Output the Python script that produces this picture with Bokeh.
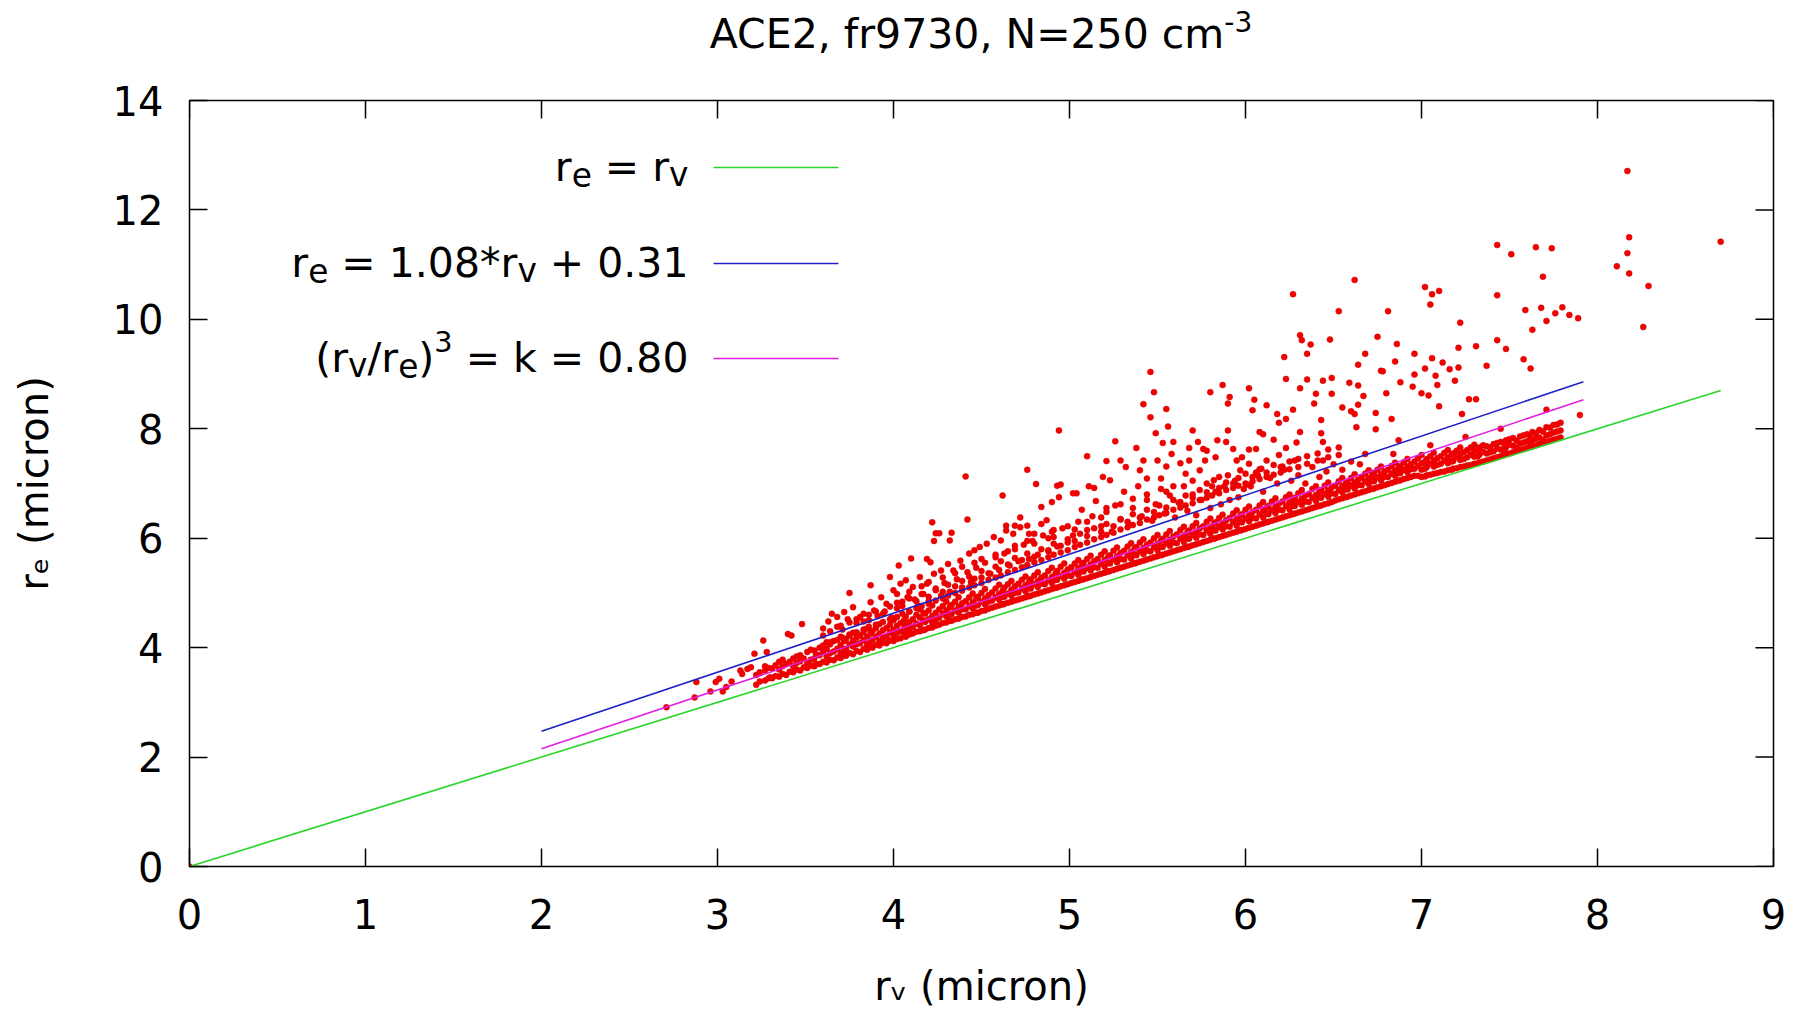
import math
from bokeh.plotting import figure
from bokeh.models import Label, FixedTicker, Div
from bokeh.layouts import column
from bokeh.embed import file_html
from bokeh.resources import INLINE

# ------------------------------------------------------------------
# DATA
# ------------------------------------------------------------------
title_main = "ACE2, fr9730, N=250 cm"
title_sup = "-3"
x_ticks = [0, 1, 2, 3, 4, 5, 6, 7, 8, 9]
y_ticks = [0, 2, 4, 6, 8, 10, 12, 14]

green_x = [0.0, 8.70]
green_y = [0.0, 8.70]
blue_x = [2.0, 7.92]
blue_y = [2.47, 8.86]
mag_x = [2.0, 7.92]
mag_y = [2.15, 8.53]

outlier_pts = [
    (0.00, 0.00),
    (8.17, 12.71), (8.70, 11.42), (8.18, 11.50), (8.17, 11.21), (8.11, 10.97), (8.18, 10.84), (8.29, 10.61), (8.26, 9.86),
    (7.43, 11.36), (7.51, 11.19), (7.65, 11.32), (7.74, 11.30), (7.69, 10.78), (7.02, 10.59), (7.06, 10.46), (7.10, 10.52),
    (7.05, 10.27), (7.43, 10.44), (6.81, 10.15), (7.22, 9.94), (7.59, 10.17), (7.68, 10.21), (7.80, 10.22), (7.76, 10.11),
    (7.84, 10.08), (7.89, 10.02), (7.71, 9.97), (7.63, 9.81),
    (6.75, 9.68), (6.86, 9.55), (6.68, 9.37), (6.96, 9.37), (7.21, 9.48), (7.31, 9.51), (7.43, 9.62), (7.48, 9.46),
    (6.85, 9.23), (7.06, 9.29), (7.12, 9.21), (7.58, 9.27), (6.77, 9.06), (7.02, 9.10), (7.16, 9.09), (7.21, 9.12),
    (7.37, 9.15), (7.62, 9.10), (6.96, 8.99), (7.08, 8.97), (7.09, 8.80), (7.19, 8.88), (6.88, 8.85), (6.95, 8.77),
    (6.67, 8.60), (6.80, 8.65), (7.00, 8.65), (7.04, 8.61), (7.27, 8.54), (7.31, 8.54), (7.10, 8.41), (6.74, 8.29),
    (7.23, 8.27), (6.83, 8.18), (6.74, 7.99), (7.90, 8.25), (6.68, 7.54), (6.87, 7.79),
    (6.62, 10.72), (6.27, 10.46), (6.53, 10.15), (6.31, 9.71), (6.32, 9.62), (6.37, 9.54), (6.48, 9.63), (6.35, 9.37), (6.22, 9.31),
    (5.46, 9.04), (5.48, 8.67), (5.42, 8.45), (5.46, 8.21), (5.55, 8.36), (4.94, 7.97), (5.26, 7.77), (5.38, 7.65),
    (5.10, 7.50), (4.76, 7.25), (4.81, 6.99), (4.62, 6.78), (5.49, 7.92), (5.56, 8.04), (5.70, 7.97), (5.87, 8.80),
    (5.80, 8.67), (5.91, 8.58), (5.90, 8.46), (6.02, 8.74), (6.05, 8.53), (6.04, 8.34), (6.12, 8.43), (6.18, 8.27),
    (6.23, 8.91), (6.31, 8.74), (6.35, 8.90), (6.44, 8.88), (6.49, 8.93), (6.40, 8.64), (6.49, 8.64), (6.39, 8.46),
    (6.64, 9.17), (6.59, 8.84), (6.64, 8.79), (6.78, 9.05), (6.55, 8.39), (6.60, 8.32), (6.62, 8.27), (6.64, 8.44),
    (6.63, 8.03), (6.43, 8.16), (6.43, 7.92), (6.44, 7.76), (6.27, 8.35), (6.23, 8.18), (6.19, 8.11), (6.31, 7.94),
    (6.29, 7.75), (6.23, 7.65), (6.19, 7.52), (6.28, 7.42), (6.21, 7.31), (6.44, 7.42), (6.16, 7.80), (6.08, 7.94),
    (6.10, 7.90), (6.06, 7.63), (6.02, 7.62), (6.12, 7.42), (6.09, 7.27), (6.02, 7.36), (5.98, 7.48), (5.93, 7.63),
    (5.90, 7.97), (5.89, 7.76), (5.84, 7.79), (5.76, 7.63), (5.78, 7.60), (5.83, 7.48), (5.77, 7.42), (5.95, 7.42),
    (5.97, 7.24), (6.07, 7.15), (6.01, 6.98), (5.90, 7.15), (5.82, 7.06), (5.74, 7.24), (5.68, 7.65), (5.73, 7.76),
    (5.68, 7.42), (5.66, 7.18), (5.63, 7.37), (5.58, 7.54), (5.59, 7.76), (5.53, 7.74), (5.50, 7.42), (5.55, 7.31),
    (5.42, 7.42), (5.40, 7.24), (5.44, 7.09), (5.52, 7.09), (5.59, 6.95), (5.29, 7.42), (5.32, 7.30), (5.21, 7.41),
    (5.19, 7.12), (5.23, 7.06), (5.11, 6.95), (5.14, 6.92), (5.04, 6.82), (4.95, 6.98), (5.02, 6.82), (4.94, 6.75),
    (4.90, 6.66), (4.84, 6.57), (4.72, 6.38), (4.64, 6.23), (4.69, 6.23), (4.77, 6.08), (4.41, 7.13), (4.93, 6.96),
    (6.84, 7.54), (7.05, 7.70), (7.25, 7.85), (7.45, 8.00), (7.71, 8.35),
]

low_pts = [
    (2.71, 2.91), (2.87, 3.09), (2.88, 3.37), (2.96, 3.20), (2.99, 3.37), (3.01, 3.43), (3.03, 3.20), (3.05, 3.28),
    (3.08, 3.38), (3.13, 3.58), (3.14, 3.52), (3.17, 3.61), (3.19, 3.64), (3.30, 3.46), (3.21, 3.89), (3.26, 4.13),
    (3.28, 3.92), (3.40, 4.25), (3.42, 4.22), (3.48, 4.43), (3.75, 5.00), (3.87, 5.14), (3.98, 5.29), (4.03, 5.50),
    (4.10, 5.63), (4.19, 5.62), (4.21, 5.56), (4.22, 6.29), (4.42, 6.34), (4.24, 6.09), (4.26, 6.09), (4.23, 5.95),
    (4.33, 6.10), (4.32, 5.96),
]

cloud_pts = [
    (3.65, 4.62), (3.68, 4.56), (3.72, 4.65), (3.77, 4.74), (3.81, 4.56), (3.87, 4.83), (3.89, 4.68), (3.93, 4.92),
    (3.96, 4.80), (4.00, 5.05), (4.04, 5.17), (4.07, 5.23), (4.08, 4.92), (4.11, 5.11), (4.15, 5.29), (4.19, 5.17),
    (4.23, 5.35), (4.27, 5.41), (4.31, 5.53), (4.34, 5.41), (4.38, 5.59), (4.43, 5.72), (4.46, 5.78), (4.49, 5.84),
    (4.53, 5.90), (4.57, 6.02), (4.61, 5.96), (4.64, 6.14), (4.68, 6.08), (4.72, 6.20), (4.76, 6.23), (4.80, 6.08),
    (4.84, 6.26), (4.87, 6.33), (4.91, 6.02),
    (3.60, 4.35), (3.63, 4.48), (3.70, 4.40), (3.74, 4.52), (3.79, 4.45), (3.83, 4.62), (3.86, 4.50), (3.91, 4.58),
    (3.95, 4.66), (3.99, 4.55), (4.02, 4.72), (4.05, 4.84), (4.09, 4.66), (4.12, 4.88), (4.14, 4.76), (4.17, 4.98),
    (4.20, 4.85), (4.24, 5.05), (4.27, 4.95), (4.29, 5.18), (4.32, 5.02), (4.36, 5.25), (4.39, 5.10), (4.42, 5.38),
    (4.44, 5.20), (4.47, 5.46), (4.50, 5.28), (4.52, 5.55), (4.55, 5.35), (4.58, 5.65), (4.60, 5.42), (4.63, 5.72),
    (4.66, 5.50), (4.69, 5.80), (4.71, 5.58), (4.74, 5.88), (4.77, 5.62), (4.79, 5.95), (4.82, 5.70), (4.85, 6.05),
    (4.88, 5.78), (4.90, 6.12), (4.93, 5.85), (4.96, 6.18), (4.99, 5.92),
    (5.02, 6.05), (5.05, 6.30), (5.07, 6.52), (5.10, 6.15), (5.13, 6.40), (5.15, 6.68), (5.18, 6.22), (5.21, 6.48),
    (5.24, 6.12), (5.26, 6.60), (5.29, 6.35), (5.31, 6.85), (5.34, 6.25), (5.36, 6.55), (5.39, 6.95), (5.41, 6.40),
    (5.44, 6.70), (5.47, 6.32), (5.49, 6.62), (5.52, 6.90), (5.54, 6.45), (5.57, 6.78), (5.60, 6.38), (5.62, 6.65),
    (5.65, 6.95), (5.67, 6.50), (5.70, 6.80), (5.72, 6.42), (5.75, 6.70), (5.78, 7.00), (5.80, 6.55), (5.83, 6.85),
    (5.86, 6.62), (5.88, 6.95), (5.91, 6.70), (5.94, 7.05), (5.96, 6.75), (5.99, 6.90),
    (6.03, 6.95), (6.06, 7.20), (6.10, 6.85), (6.14, 7.10), (6.18, 7.00), (6.22, 7.25), (6.26, 7.05), (6.30, 7.15),
    (6.34, 7.00), (6.38, 7.30), (6.42, 7.12), (6.46, 7.22), (6.50, 7.35), (6.55, 7.25), (6.60, 7.40), (6.65, 7.35),
]

mid_cols = [
    (3.60, [4.02, 4.22]), (3.64, [4.10, 4.30]), (3.68, [4.14, 4.38]), (3.71, [4.18, 4.33]), (3.75, [4.24, 4.46]),
    (3.79, [4.28, 4.52]), (3.83, [4.33, 4.48]), (3.86, [4.38, 4.60]), (3.90, [4.42, 4.66]), (3.94, [4.47, 4.62]),
    (3.98, [4.52, 4.75]), (4.02, [4.56, 4.82, 4.98]), (4.05, [4.62, 4.76]), (4.09, [4.66, 4.90, 5.02]), (4.13, [4.72, 4.85]),
    (4.16, [4.76, 4.98, 5.12]), (4.20, [4.80, 4.93, 5.20]), (4.24, [4.86, 5.08]), (4.28, [4.90, 5.02, 5.28]), (4.31, [4.95, 5.15]),
    (4.35, [5.00, 5.12, 5.36]), (4.39, [5.04, 5.22, 5.48]), (4.43, [5.10, 5.30]), (4.46, [5.14, 5.26, 5.55]), (4.50, [5.18, 5.40, 5.62]),
    (4.54, [5.24, 5.36]), (4.58, [5.28, 5.48, 5.70]), (4.61, [5.32, 5.58]), (4.65, [5.38, 5.52, 5.76]), (4.69, [5.42, 5.64, 5.86]),
    (4.73, [5.47, 5.60]), (4.76, [5.51, 5.72, 5.95]), (4.80, [5.56, 5.66, 5.90]), (4.84, [5.60, 5.80]), (4.88, [5.65, 5.76, 6.00]),
    (4.91, [5.70, 5.90, 6.15]), (4.95, [5.74, 5.86]), (4.99, [5.78, 5.98, 6.22]), (5.03, [5.84, 5.95, 6.16]), (5.06, [5.88, 6.08]),
    (5.10, [5.92, 6.04, 6.30]), (5.14, [5.98, 6.18]), (5.18, [6.02, 6.12, 6.38]), (5.21, [6.06, 6.26, 6.55]), (5.25, [6.10, 6.22]),
    (5.29, [6.16, 6.34, 6.62]), (5.33, [6.20, 6.30]), (5.36, [6.24, 6.44, 6.72]), (5.40, [6.28, 6.38]), (5.44, [6.34, 6.52, 6.80]),
    (5.48, [6.38, 6.48]), (5.51, [6.42, 6.60]), (5.55, [6.46, 6.56, 6.85]), (5.59, [6.52, 6.70]), (5.63, [6.56, 6.66]),
    (5.66, [6.60, 6.78]), (5.70, [6.64, 6.74, 7.05]), (5.74, [6.70, 6.88]), (5.78, [6.74, 6.84]), (5.81, [6.78, 6.95]),
    (5.85, [6.82, 6.92, 7.12]), (5.89, [6.88, 7.02]), (5.93, [6.92, 7.00]), (5.96, [6.96, 7.10]), (6.00, [7.00, 7.18]),
    (6.04, [7.04, 7.12]), (6.08, [7.08, 7.26]), (6.12, [7.12, 7.20]), (6.16, [7.16, 7.34]), (6.20, [7.20, 7.30]),
    (6.25, [7.26, 7.40]), (6.30, [7.30, 7.45]), (6.35, [7.36, 7.50]), (6.41, [7.42, 7.55]), (6.47, [7.48, 7.62]),
    (6.53, [7.52, 7.66]),
]

core_cols = [
    (3.22, [3.32, 3.50]), (3.27, [3.40, 3.58, 3.66]), (3.31, [3.44, 3.62]), (3.35, [3.47, 3.60, 3.74]),
    (3.39, [3.50, 3.70]), (3.43, [3.55, 3.66, 3.80]), (3.47, [3.58, 3.75, 3.86]), (3.51, [3.63, 3.71, 3.92]),
    (3.55, [3.66, 3.80, 3.95]), (3.58, [3.70, 3.86, 4.00]), (3.62, [3.73, 3.84, 3.98, 4.10]), (3.66, [3.77, 3.93, 4.12]),
    (3.70, [3.81, 3.90, 4.05, 4.20]), (3.73, [3.85, 3.98, 4.16]), (3.77, [3.88, 4.02, 4.13, 4.27]), (3.81, [3.92, 4.08, 4.22]),
    (3.85, [3.96, 4.06, 4.20, 4.35]), (3.88, [4.00, 4.14, 4.30]), (3.92, [4.04, 4.12, 4.26, 4.43]), (3.96, [4.08, 4.20, 4.36]),
    (4.00, [4.12, 4.22, 4.33, 4.50]), (4.04, [4.17, 4.30, 4.45]), (4.07, [4.20, 4.28, 4.40, 4.57]), (4.11, [4.26, 4.38, 4.52]),
    (4.15, [4.30, 4.41, 4.55, 4.70]), (4.18, [4.33, 4.47, 4.62]), (4.22, [4.37, 4.46, 4.58, 4.77]), (4.26, [4.42, 4.55, 4.70]),
    (4.30, [4.46, 4.57, 4.68, 4.84]), (4.33, [4.49, 4.62, 4.78]), (4.37, [4.53, 4.64, 4.75, 4.92]), (4.41, [4.57, 4.70, 4.85]),
    (4.45, [4.61, 4.72, 4.83, 4.99]), (4.48, [4.64, 4.78, 4.93]), (4.52, [4.68, 4.79, 4.90, 5.07]), (4.56, [4.73, 4.86, 5.01]),
    (4.60, [4.77, 4.88, 4.98, 5.15]), (4.63, [4.80, 4.93, 5.10]), (4.67, [4.84, 4.95, 5.06, 5.22]), (4.71, [4.88, 5.01, 5.17]),
    (4.75, [4.92, 5.03, 5.14, 5.30]), (4.78, [4.95, 5.08, 5.25]), (4.82, [4.99, 5.11, 5.22, 5.38]), (4.86, [5.03, 5.16, 5.32]),
    (4.90, [5.07, 5.18, 5.29, 5.46]), (4.93, [5.10, 5.24, 5.40]), (4.97, [5.14, 5.26, 5.37, 5.54]), (5.01, [5.18, 5.31, 5.47]),
    (5.05, [5.22, 5.33, 5.45, 5.60]), (5.08, [5.25, 5.39, 5.55]), (5.12, [5.29, 5.41, 5.52, 5.68]), (5.16, [5.33, 5.46, 5.62]),
    (5.20, [5.37, 5.48, 5.60, 5.76]), (5.23, [5.40, 5.54, 5.69]), (5.27, [5.44, 5.56, 5.67, 5.83]), (5.31, [5.48, 5.61, 5.77]),
    (5.35, [5.52, 5.63, 5.75, 5.91]), (5.38, [5.55, 5.69, 5.84]), (5.42, [5.59, 5.71, 5.82, 5.98]), (5.46, [5.63, 5.76, 5.92]),
    (5.50, [5.67, 5.78, 5.90, 6.06]), (5.53, [5.70, 5.84, 5.99]), (5.57, [5.74, 5.86, 5.97, 6.13]), (5.61, [5.78, 5.91, 6.07]),
    (5.65, [5.82, 5.93, 6.05, 6.21]), (5.68, [5.85, 5.99, 6.14]), (5.72, [5.89, 6.01, 6.12, 6.28]), (5.76, [5.93, 6.06, 6.22]),
    (5.80, [5.97, 6.08, 6.20, 6.36]), (5.83, [6.00, 6.14, 6.29]), (5.87, [6.04, 6.16, 6.27, 6.43]), (5.91, [6.08, 6.21, 6.37]),
    (5.95, [6.12, 6.23, 6.35, 6.51]), (5.98, [6.15, 6.29, 6.44]), (6.02, [6.19, 6.31, 6.42, 6.58]), (6.06, [6.23, 6.36, 6.52]),
    (6.10, [6.27, 6.38, 6.50, 6.66]), (6.13, [6.30, 6.44, 6.59]), (6.17, [6.34, 6.46, 6.57, 6.73]), (6.21, [6.38, 6.51, 6.67]),
    (6.25, [6.42, 6.53, 6.65, 6.80]), (6.28, [6.45, 6.59, 6.74]), (6.32, [6.49, 6.61, 6.72, 6.88]), (6.36, [6.53, 6.66, 6.81]),
    (6.40, [6.57, 6.68, 6.79, 6.95]), (6.43, [6.60, 6.74, 6.88]), (6.47, [6.64, 6.76, 6.87, 7.02]), (6.51, [6.69, 6.81, 6.96]),
    (6.55, [6.73, 6.84, 6.95, 7.10]), (6.58, [6.76, 6.89, 7.03]), (6.62, [6.80, 6.91, 7.02, 7.17]), (6.66, [6.84, 6.97, 7.11]),
    (6.70, [6.88, 6.99, 7.10, 7.24]), (6.73, [6.91, 7.04, 7.18]), (6.77, [6.95, 7.06, 7.17, 7.31]), (6.81, [6.99, 7.12, 7.25]),
    (6.85, [7.03, 7.14, 7.24, 7.38]), (6.88, [7.06, 7.19, 7.32]), (6.92, [7.10, 7.21, 7.31, 7.45]), (6.96, [7.14, 7.27, 7.40]),
    (7.00, [7.12, 7.25, 7.37, 7.52]), (7.03, [7.15, 7.30, 7.45]), (7.07, [7.18, 7.31, 7.42, 7.56]), (7.11, [7.21, 7.36, 7.50]),
    (7.15, [7.24, 7.37, 7.48, 7.61]), (7.18, [7.27, 7.41, 7.55]), (7.22, [7.30, 7.43, 7.54, 7.66]), (7.26, [7.33, 7.48, 7.61]),
    (7.30, [7.36, 7.49, 7.60, 7.71]), (7.33, [7.39, 7.53, 7.66]), (7.37, [7.42, 7.55, 7.68]), (7.41, [7.46, 7.59, 7.72]),
    (7.45, [7.50, 7.62, 7.76]), (7.48, [7.53, 7.66, 7.79]), (7.52, [7.57, 7.69, 7.83]), (7.56, [7.61, 7.73, 7.86]),
    (7.60, [7.65, 7.77, 7.90]), (7.63, [7.68, 7.80, 7.94]), (7.67, [7.72, 7.84, 7.98]), (7.71, [7.76, 7.88, 8.03]),
    (7.75, [7.80, 7.93, 8.07]), (7.79, [7.84, 7.97, 8.11]),
]

core2_cols = [
    (3.24, [3.38, 3.55]), (3.29, [3.44, 3.63]), (3.33, [3.48, 3.68]), (3.37, [3.52, 3.66, 3.78]), (3.41, [3.56, 3.74]),
    (3.45, [3.60, 3.72, 3.84]), (3.49, [3.64, 3.80]), (3.53, [3.67, 3.78, 3.96]), (3.56, [3.70, 3.88]), (3.60, [3.74, 3.92, 4.04]),
    (3.64, [3.78, 3.90, 4.06]), (3.68, [3.82, 3.98]), (3.72, [3.86, 3.96, 4.12]), (3.75, [3.90, 4.06, 4.22]), (3.79, [3.94, 4.06, 4.18]),
    (3.83, [3.98, 4.14, 4.28]), (3.87, [4.02, 4.12, 4.26]), (3.90, [4.05, 4.20, 4.36]), (3.94, [4.09, 4.18, 4.32]), (3.98, [4.13, 4.28, 4.42]),
    (4.02, [4.16, 4.27, 4.40]), (4.06, [4.21, 4.35, 4.50]), (4.09, [4.24, 4.34, 4.47]), (4.13, [4.29, 4.44, 4.60]), (4.17, [4.32, 4.50, 4.64]),
    (4.20, [4.36, 4.52, 4.68]), (4.24, [4.40, 4.51, 4.64]), (4.28, [4.45, 4.62, 4.76]), (4.32, [4.49, 4.60, 4.74]), (4.35, [4.52, 4.68, 4.84]),
    (4.39, [4.56, 4.70, 4.81]), (4.43, [4.60, 4.76, 4.92]), (4.47, [4.64, 4.77, 4.90]), (4.50, [4.67, 4.84, 5.00]), (4.54, [4.71, 4.84, 4.96]),
    (4.58, [4.75, 4.92, 5.08]), (4.62, [4.79, 4.93, 5.04]), (4.65, [4.82, 4.99, 5.16]), (4.69, [4.86, 5.00, 5.12]), (4.73, [4.90, 5.08, 5.24]),
    (4.77, [4.94, 5.09, 5.20]), (4.80, [4.97, 5.16, 5.32]), (4.84, [5.01, 5.17, 5.28]), (4.88, [5.05, 5.23, 5.40]), (4.92, [5.09, 5.24, 5.35]),
    (4.95, [5.12, 5.31, 5.48]), (4.99, [5.16, 5.32, 5.43]), (5.03, [5.20, 5.38, 5.54]), (5.07, [5.24, 5.40, 5.51]), (5.10, [5.27, 5.46, 5.62]),
    (5.14, [5.31, 5.47, 5.58]), (5.18, [5.35, 5.54, 5.70]), (5.22, [5.39, 5.55, 5.66]), (5.25, [5.42, 5.61, 5.77]), (5.29, [5.46, 5.62, 5.73]),
    (5.33, [5.50, 5.69, 5.85]), (5.37, [5.54, 5.70, 5.81]), (5.40, [5.57, 5.76, 5.92]), (5.44, [5.61, 5.77, 5.88]), (5.48, [5.65, 5.84, 6.00]),
    (5.52, [5.69, 5.85, 5.96]), (5.55, [5.72, 5.91, 6.07]), (5.59, [5.76, 5.92, 6.03]), (5.63, [5.80, 5.99, 6.15]), (5.67, [5.84, 6.00, 6.11]),
    (5.70, [5.87, 6.06, 6.22]), (5.74, [5.91, 6.07, 6.18]), (5.78, [5.95, 6.14, 6.30]), (5.82, [5.99, 6.15, 6.26]), (5.85, [6.02, 6.21, 6.37]),
    (5.89, [6.06, 6.22, 6.33]), (5.93, [6.10, 6.29, 6.45]), (5.97, [6.14, 6.30, 6.41]), (6.00, [6.17, 6.36, 6.52]), (6.04, [6.21, 6.37, 6.48]),
    (6.08, [6.25, 6.44, 6.60]), (6.12, [6.29, 6.45, 6.56]), (6.15, [6.32, 6.51, 6.67]), (6.19, [6.36, 6.52, 6.63]), (6.23, [6.40, 6.59, 6.75]),
    (6.27, [6.44, 6.60, 6.70]), (6.30, [6.47, 6.66, 6.82]), (6.34, [6.51, 6.67, 6.78]), (6.38, [6.55, 6.74, 6.90]), (6.42, [6.59, 6.75, 6.85]),
    (6.45, [6.62, 6.81, 6.96]), (6.49, [6.66, 6.82, 6.93]), (6.53, [6.71, 6.88, 7.04]), (6.57, [6.75, 6.90, 7.00]), (6.60, [6.78, 6.96, 7.10]),
    (6.64, [6.82, 6.97, 7.07]), (6.68, [6.86, 7.04, 7.18]), (6.72, [6.90, 7.05, 7.15]), (6.75, [6.93, 7.11, 7.25]), (6.79, [6.97, 7.12, 7.22]),
    (6.83, [7.01, 7.18, 7.32]), (6.87, [7.05, 7.19, 7.29]), (6.90, [7.08, 7.25, 7.39]), (6.94, [7.12, 7.26, 7.35]), (6.98, [7.14, 7.32, 7.46]),
    (7.02, [7.13, 7.27, 7.40]), (7.05, [7.16, 7.36, 7.50]), (7.09, [7.19, 7.34, 7.46]), (7.13, [7.22, 7.42, 7.56]), (7.17, [7.25, 7.40, 7.52]),
    (7.20, [7.28, 7.48, 7.60]), (7.24, [7.31, 7.45, 7.57]), (7.28, [7.34, 7.53, 7.66]), (7.32, [7.37, 7.50, 7.62]), (7.35, [7.40, 7.58, 7.70]),
    (7.39, [7.44, 7.57, 7.66]), (7.43, [7.48, 7.64, 7.74]), (7.47, [7.52, 7.60, 7.72]), (7.50, [7.55, 7.71, 7.81]), (7.54, [7.59, 7.66, 7.78]),
    (7.58, [7.63, 7.75, 7.88]), (7.62, [7.67, 7.72, 7.84]), (7.65, [7.70, 7.82, 7.92]), (7.69, [7.74, 7.80, 7.95]), (7.73, [7.78, 7.90, 8.02]),
    (7.77, [7.82, 7.95, 8.08]),
]

# ------------------------------------------------------------------
# point table
# ------------------------------------------------------------------
rv, re = [], []
for cols in (core_cols, core2_cols, mid_cols):
    for x, ys in cols:
        for y in ys:
            rv.append(x)
            re.append(y)
for pts in (low_pts, cloud_pts, outlier_pts):
    for x, y in pts:
        rv.append(x)
        re.append(y)

# ------------------------------------------------------------------
# geometry: page px; a title strip (Div) on top of the figure
# ------------------------------------------------------------------
PAGE_W, PAGE_H = 1798, 1011
TOP_H = 60
W, H = PAGE_W, PAGE_H - TOP_H
FL, FR = 189, 1773
FT, FB = 100 - TOP_H, 866 - TOP_H
FONT = "DejaVu Sans"
S = 40

title_div = Div(
    text=('<div style="position:absolute; left:981px; top:14px; transform:translateX(-50%); '
          'white-space:nowrap; font-family:\'DejaVu Sans\'; font-size:41px; line-height:41px; color:#000;">'
          f'{title_main}<span style="position:relative; top:-16px; font-size:28px;">{title_sup}</span></div>'),
    width=PAGE_W, height=TOP_H, margin=0,
    styles={"position": "relative", "overflow": "visible"})

p = figure(width=W, height=H, x_range=(0, 9), y_range=(0, 14),
           output_backend="svg", toolbar_location=None, title=None,
           min_border_left=FL, min_border_right=W - FR,
           min_border_top=FT, min_border_bottom=H - FB, margin=0)
p.background_fill_color = "white"
p.border_fill_color = "white"
p.grid.visible = False
p.outline_line_color = "black"
p.outline_line_width = 1.5
p.outline_line_alpha = 1.0

for ax in (p.xaxis[0], p.yaxis[0]):
    ax.axis_line_color = None
    ax.major_tick_in = 18
    ax.major_tick_out = 0
    ax.major_tick_line_color = "black"
    ax.major_tick_line_width = 1.5
    ax.minor_tick_line_color = None
    ax.major_label_text_font = FONT
    ax.major_label_text_font_size = f"{S}px"
    ax.major_label_text_color = "black"
    ax.major_label_text_font_style = "normal"
    ax.axis_label_text_font = FONT
    ax.axis_label_text_font_size = f"{S}px"
    ax.axis_label_text_font_style = "normal"
    ax.axis_label_text_color = "black"
p.xaxis[0].ticker = FixedTicker(ticks=x_ticks)
p.yaxis[0].ticker = FixedTicker(ticks=y_ticks)
p.xaxis[0].major_label_standoff = 32
p.yaxis[0].major_label_standoff = 26
p.xaxis[0].axis_label = "r\u1d65 (micron)"
p.yaxis[0].axis_label = "r\u2091 (micron)"
p.xaxis[0].axis_label_standoff = 31
p.yaxis[0].axis_label_standoff = 53

tick_dy = 18 / ((FB - FT) / 14.0)
tick_dx = 18 / ((FR - FL) / 9.0)
p.segment(x0=x_ticks, y0=[14] * len(x_ticks), x1=x_ticks, y1=[14 - tick_dy] * len(x_ticks),
          line_color="black", line_width=1.5)
p.segment(x0=[9] * len(y_ticks), y0=y_ticks, x1=[9 - tick_dx] * len(y_ticks), y1=y_ticks,
          line_color="black", line_width=1.5)

# ------------------------------------------------------------------
# marks
# ------------------------------------------------------------------
p.scatter(rv, re, marker="circle", size=6, fill_color="#f40000",
          line_color="#d00000", line_width=0.5)
GREEN, BLUE, MAG = "#2bd62b", "#2020c8", "#e020e0"
p.line(green_x, green_y, line_color=GREEN, line_width=1.6)
p.line(blue_x, blue_y, line_color=BLUE, line_width=1.6)
p.line(mag_x, mag_y, line_color=MAG, line_width=1.6)

# ------------------------------------------------------------------
# legend: rich text with sub/superscripts as separate text pieces
# ------------------------------------------------------------------
ADV = {' ': 651, '=': 1716, 'r': 842, 'e': 1260, 'v': 1212, '(': 799, ')': 799, '/': 690,
       'k': 1186, '*': 1024, '+': 1716, '.': 651}
SC = {"n": 1.0, "sub": 0.8, "sup": 0.7}
SH = {"n": 0.0, "sub": -0.2, "sup": 0.38}
PX_X = (FR - FL) / 9.0
PX_Y = (FB - FT) / 14.0
LS = 41


def dx(X):
    return (X - FL) / PX_X


def dy(Y):
    return (FB - (Y - TOP_H)) / PX_Y


def adv(t):
    return sum((1303 if ch.isdigit() else ADV.get(ch, 1200)) for ch in t) / 2048.0


def rich(X, Y, pieces, size=LS, align="left"):
    widths = [adv(t) * size * SC[k] for t, k in pieces]
    total = sum(widths)
    pos = {"left": 0.0, "right": -total, "center": -total / 2}[align]
    for (t, k), w in zip(pieces, widths):
        lead = len(t) - len(t.lstrip(" "))
        body = t.strip(" ")
        xo = pos + adv(" " * lead) * size * SC[k]
        p.add_layout(Label(x=dx(X), y=dy(Y), x_offset=xo, y_offset=SH[k] * size, text=body,
                           text_font=FONT, text_font_size=f"{size * SC[k]:.1f}px",
                           text_color="black", text_align="left",
                           text_baseline="alphabetic"))
        pos += w


LEG_X = 688
LEG_ROWS = [166, 262, 357]
LEG_KEY = [167, 263, 358]
rich(LEG_X, LEG_ROWS[0], [("r", "n"), ("e", "sub"), (" = r", "n"), ("v", "sub")], align="right")
rich(LEG_X, LEG_ROWS[1], [("r", "n"), ("e", "sub"), (" = 1.08*r", "n"), ("v", "sub"), (" + 0.31", "n")],
     align="right")
rich(LEG_X, LEG_ROWS[2], [("(r", "n"), ("v", "sub"), ("/r", "n"), ("e", "sub"), (")", "n"), ("3", "sup"),
                          (" = k = 0.80", "n")], align="right")
for yk, col in zip(LEG_KEY, [GREEN, BLUE, MAG]):
    p.line([dx(713), dx(838)], [dy(yk), dy(yk)], line_color=col, line_width=1.6)

layout = column(title_div, p, spacing=0, margin=0)
open("out.html", "w").write(file_html(layout, INLINE, "ACE2 fr9730"))
